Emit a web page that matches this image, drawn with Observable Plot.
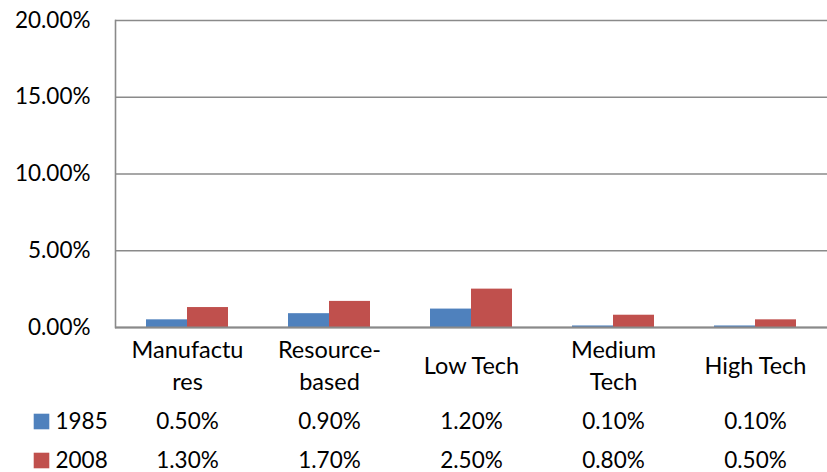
<!DOCTYPE html>
<html>
<head>
<meta charset="utf-8">
<script src="https://cdn.jsdelivr.net/npm/d3@7"></script>
<script src="https://cdn.jsdelivr.net/npm/@observablehq/plot@0.6"></script>
<style>
  html, body { margin: 0; padding: 0; background: #fff; }
  #chart svg { display: block; }
</style>
</head>
<body>
<div id="chart"></div>
<script>
const categories = ["Manufactures", "Resource-based", "Low Tech", "Medium Tech", "High Tech"];
const categoryLabels = ["Manufactu\nres", "Resource-\nbased", "Low Tech", "Medium\nTech", "High Tech"];
const series = ["1985", "2008"];
const values1985 = [0.005, 0.009, 0.012, 0.001, 0.001];
const values2008 = [0.013, 0.017, 0.025, 0.008, 0.005];
const yTicks = [0, 0.05, 0.10, 0.15, 0.20];
const colors = ["#4F81BD", "#C0504D"];

const seriesValues = [values1985, values2008];
const rows = [];
series.forEach((s, i) => categories.forEach((c, j) => rows.push({series: s, category: c, value: seriesValues[i][j]})));

const FONT = "Lato, 'Open Sans', sans-serif";
const FS = 22.5;
const FSC = 23.5;
const fmt = d3.format(".2%");

const marks = [
  Plot.ruleY(yTicks, {stroke: "#8a8a8a", strokeWidth: 1.6}),
  Plot.frame({anchor: "left", stroke: "#8a8a8a", strokeWidth: 1.6}),
  Plot.axisY({ticks: yTicks, tickFormat: fmt, tickSize: 0, tickPadding: 25, fontSize: FS, fill: "#000", label: null}),
  Plot.barY(rows.filter(d => d.series === "1985"), {x: "category", y: "value", fill: colors[0], insetRight: 41}),
  Plot.barY(rows.filter(d => d.series === "2008"), {x: "category", y: "value", fill: colors[1], insetLeft: 41}),
  Plot.ruleY([0], {stroke: "#8a8a8a", strokeWidth: 2}),
  Plot.text(categories, {x: d => d, text: (d, i) => categoryLabels[i], frameAnchor: "bottom", lineAnchor: "middle", dy: 36, fontSize: FSC, lineHeight: 1.37, fill: "#000"})
];
series.forEach((s, i) => {
  const dy = 94 + 39 * i;
  marks.push(Plot.text(categories, {x: d => d, text: (d, j) => fmt(seriesValues[i][j]), frameAnchor: "bottom", lineAnchor: "middle", dy, fontSize: FS, fill: "#000"}));
  marks.push(Plot.dot([s], {frameAnchor: "bottom-left", dx: -74, dy, symbol: "square", r: 8.8, fill: colors[i], stroke: null}));
  marks.push(Plot.text([s], {frameAnchor: "bottom-left", lineAnchor: "middle", dx: -60, dy, text: d => d, textAnchor: "start", fontSize: FS, fill: "#000"}));
});

const chart = Plot.plot({
  width: 827,
  height: 472,
  marginTop: 20,
  marginBottom: 145,
  marginLeft: 115,
  marginRight: 0,
  style: {fontFamily: FONT, background: "#fff", overflow: "visible"},
  x: {domain: categories, paddingInner: 0.424, paddingOuter: 0.212, axis: null},
  y: {domain: [0, 0.2], axis: null},
  marks
});
document.getElementById("chart").appendChild(chart);
</script>
</body>
</html>
